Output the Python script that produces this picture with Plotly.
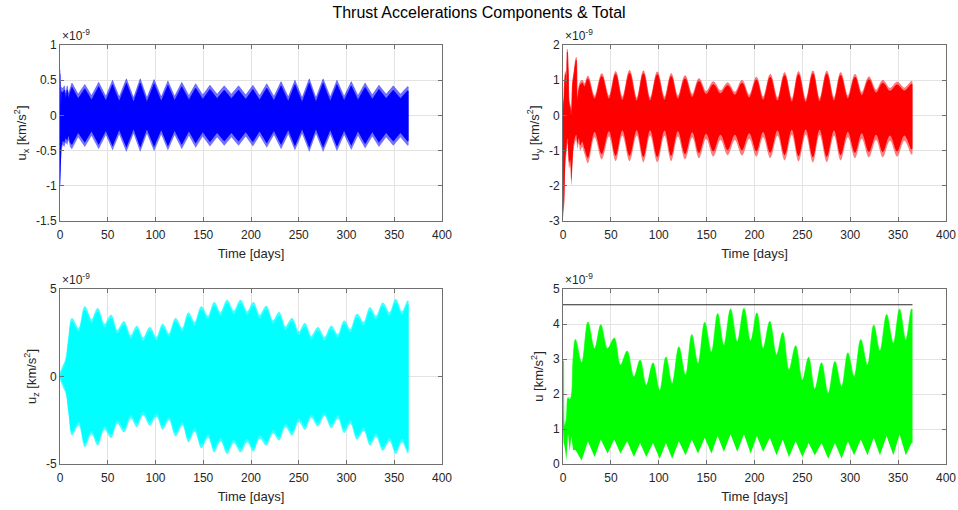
import plotly.graph_objects as go

# ---------------- text / ticks ----------------
TITLE = "Thrust Accelerations Components & Total"
X_TITLE = "Time [days]"
EXPONENT = "×10<sup>-9</sup>"
X_TICKS = [0, 50, 100, 150, 200, 250, 300, 350, 400]
UX_TICKS = [-1.5, -1, -0.5, 0, 0.5, 1]
UX_TICK_TEXT = ["-1.5", "-1", "-0.5", "0", "0.5", "1"]
UY_TICKS = [-3, -2, -1, 0, 1, 2]
UY_TICK_TEXT = ["-3", "-2", "-1", "0", "1", "2"]
UZ_TICKS = [-5, 0, 5]
UZ_TICK_TEXT = ["-5", "0", "5"]
U_TICKS = [0, 1, 2, 3, 4, 5]
U_TICK_TEXT = ["0", "1", "2", "3", "4", "5"]

# ---------------- data (units of 1e-9 km/s^2), envelope nodes -------
# u_x : start transient
ux_start_t = [0, 0.8, 1.5, 3, 4.5, 6, 7.5, 9, 10.5]
ux_start_hi = [0.65, 0.1, 0.4, 0.38, 0.42, 0.3, 0.42, 0.3, 0.38]
ux_start_lo = [-1.08, -0.75, -0.5, -0.42, -0.45, -0.38, -0.42, -0.35, -0.45]
# u_x : lobe peaks
ux_peak_t = [12.5, 26, 40.5, 55, 69.5, 84, 98.5, 113, 127.5, 142, 157, 172, 187, 202,
             216.5, 231.5, 246, 261, 275.5, 290, 305, 319.5, 334, 349, 364, 365]
ux_peak_hi = [0.46, 0.44, 0.47, 0.50, 0.52, 0.52, 0.51, 0.49, 0.47, 0.45, 0.43, 0.42, 0.42,
              0.43, 0.45, 0.48, 0.50, 0.52, 0.52, 0.50, 0.48, 0.46, 0.43, 0.42, 0.41, 0.40]
ux_peak_lo = [-0.48, -0.45, -0.48, -0.50, -0.52, -0.52, -0.51, -0.50, -0.48, -0.46, -0.44,
              -0.43, -0.43, -0.44, -0.46, -0.48, -0.50, -0.52, -0.52, -0.51, -0.49, -0.47,
              -0.45, -0.43, -0.43, -0.42]
# u_x : between lobes
ux_valley_t = [19, 33, 48, 62, 77, 91, 106, 120, 135, 149.5, 164.5, 179.5, 194.5, 209, 224,
               239, 253.5, 268, 283, 297.5, 312, 327, 341.5, 356.5]
ux_valley_hi = [0.30, 0.28, 0.27, 0.26, 0.25, 0.25, 0.26, 0.27, 0.28, 0.29, 0.30, 0.30, 0.29,
                0.28, 0.27, 0.26, 0.25, 0.25, 0.26, 0.27, 0.28, 0.29, 0.30, 0.30]
ux_valley_lo = [-0.31, -0.29, -0.28, -0.27, -0.26, -0.26, -0.27, -0.28, -0.29, -0.30, -0.31,
                -0.31, -0.30, -0.29, -0.28, -0.27, -0.26, -0.26, -0.27, -0.28, -0.29, -0.30,
                -0.31, -0.31]

# u_y
uy_start_t = [0, 0.6, 1.5, 2.5, 3.5, 4.5, 5.5, 6.5, 7.5, 8.7, 10, 11.5, 13.8, 15, 16.5, 18,
              20, 22.5]
uy_start_hi = [0.5, 0.2, 0.9, 1.25, 0.8, 1.88, 1.3, 0.4, 0.3, 0.1, 0.95, 1.25, 1.65, 0.5,
               0.8, 0.95, 1.0, 0.9]
uy_start_lo = [-0.3, -2.9, -2.4, -1.4, -1.1, -0.8, -1.2, -1.5, -1.4, -1.98, -1.4, -0.9, -0.7,
               -0.95, -0.8, -1.0, -0.9, -1.1]
uy_peak_t = [26, 40.5, 55, 69.5, 84, 98.5, 113, 127.5, 142, 157, 172, 187, 202, 216.5, 231.5,
             246, 261, 275.5, 290, 305, 319.5, 334, 349, 364, 365]
uy_peak_hi = [1.12, 1.19, 1.25, 1.28, 1.27, 1.24, 1.19, 1.13, 1.05, 0.96, 0.93, 1.00, 1.09,
              1.17, 1.22, 1.25, 1.27, 1.26, 1.22, 1.17, 1.10, 1.00, 0.95, 0.97, 0.95]
uy_peak_lo = [-1.36, -1.25, -1.30, -1.30, -1.33, -1.33, -1.30, -1.25, -1.22, -1.17, -1.13,
              -1.14, -1.17, -1.21, -1.28, -1.31, -1.34, -1.33, -1.28, -1.21, -1.19, -1.19,
              -1.17, -1.12, -1.10]
uy_valley_t = [33, 48, 62, 77, 91, 106, 120, 135, 149.5, 164.5, 179.5, 194.5, 209, 224, 239,
               253.5, 268, 283, 297.5, 312, 327, 341.5, 356.5]
uy_valley_hi = [0.55, 0.55, 0.52, 0.50, 0.50, 0.52, 0.55, 0.60, 0.68, 0.70, 0.66, 0.58, 0.52,
                0.50, 0.47, 0.46, 0.48, 0.50, 0.56, 0.65, 0.72, 0.77, 0.78]
uy_valley_lo = [-0.62, -0.60, -0.58, -0.57, -0.57, -0.58, -0.60, -0.63, -0.67, -0.70, -0.70,
                -0.66, -0.62, -0.58, -0.56, -0.55, -0.56, -0.58, -0.62, -0.66, -0.70, -0.72,
                -0.72]

# u_z
uz_start_t = [0, 3, 6, 9]
uz_start_hi = [0.2, 0.6, 1.0, 2.2]
uz_start_lo = [-0.2, -0.6, -1.0, -2.2]
uz_peak_t = [12.5, 26, 39.5, 53.5, 67, 80.5, 94, 107.5, 121, 134.5, 148, 161.5, 175, 189,
             202.5, 216, 229.5, 243, 256.5, 270, 284, 297.5, 311, 324.5, 338, 351.5, 364, 365]
uz_peak_hi = [3.33, 4.0, 3.9, 3.52, 3.14, 2.89, 2.81, 3.0, 3.33, 3.65, 4.0, 4.24, 4.37, 4.37,
              4.24, 4.03, 3.67, 3.33, 3.04, 2.81, 2.89, 3.19, 3.57, 3.95, 4.22, 4.41, 4.33, 4.3]
uz_peak_lo = [-3.37, -4.03, -3.94, -3.52, -3.19, -2.89, -2.81, -3.04, -3.42, -3.75, -4.09,
              -4.33, -4.43, -4.33, -4.28, -3.95, -3.65, -3.37, -3.04, -2.85, -2.95, -3.23,
              -3.61, -3.94, -4.24, -4.43, -4.37, -4.35]
uz_valley_t = [19.5, 33, 46.5, 60, 74, 87, 101, 114, 128, 141, 155, 168, 182, 196, 209, 223,
               236, 250, 263, 277, 291, 304, 318, 331, 345, 358]
uz_valley_hi = [2.75, 3.25, 3.0, 2.65, 2.35, 2.2, 2.25, 2.45, 2.75, 3.1, 3.45, 3.65, 3.75, 3.7,
                3.5, 3.2, 2.85, 2.55, 2.3, 2.25, 2.4, 2.7, 3.1, 3.45, 3.65, 3.7]
uz_valley_lo = [-2.8, -3.3, -3.05, -2.7, -2.4, -2.2, -2.3, -2.5, -2.8, -3.15, -3.5, -3.7, -3.8,
                -3.75, -3.55, -3.25, -2.9, -2.6, -2.35, -2.25, -2.4, -2.7, -3.1, -3.45, -3.7,
                -3.75]

# |u|
u_start_t = [0, 0.6, 1.7, 3.5, 5.2, 7, 8.7, 10.5]
u_start_hi = [2.0, 2.95, 1.1, 1.3, 1.9, 1.85, 1.95, 3.0]
u_start_lo = [1.0, 0.6, 0.5, 0.1, 0.9, 0.35, 0.8, 0.4]
u_peak_t = [13, 26, 39.5, 53.5, 67, 80.5, 94, 107.5, 121, 134.5, 148, 161.5, 175, 189, 202.5,
            216, 229.5, 243, 256.5, 270, 284, 297.5, 311, 324.5, 338, 351.5, 364, 365]
u_peak_hi = [3.56, 4.06, 3.98, 3.6, 3.23, 2.97, 2.89, 3.06, 3.35, 3.7, 4.05, 4.3, 4.43, 4.45,
             4.32, 4.08, 3.76, 3.38, 3.05, 2.89, 2.93, 3.18, 3.56, 3.97, 4.27, 4.43, 4.43, 4.4]
u_peak_lo = [0.4, 0.65, 0.7, 0.7, 0.65, 0.6, 0.6, 0.6, 0.65, 0.7, 0.75, 0.8, 0.85, 0.85, 0.8,
             0.75, 0.7, 0.65, 0.6, 0.6, 0.6, 0.65, 0.7, 0.75, 0.8, 0.85, 0.6, 0.6]
u_valley_t = [19.5, 33, 46.5, 60, 74, 87, 101, 114, 128, 141, 155, 168, 182, 196, 209, 223,
              236, 250, 263, 277, 291, 304, 318, 331, 345, 358]
u_valley_hi = [2.9, 3.3, 3.3, 2.83, 2.49, 2.25, 2.1, 2.3, 2.54, 2.87, 3.2, 3.4, 3.5, 3.52, 3.31,
               3.12, 2.69, 2.4, 2.14, 2.02, 2.21, 2.5, 2.83, 3.23, 3.45, 3.55]
u_valley_lo = [0.1, 0.2, 0.3, 0.3, 0.2, 0.2, 0.15, 0.15, 0.25, 0.3, 0.3, 0.35, 0.35, 0.3, 0.35,
               0.25, 0.2, 0.2, 0.25, 0.15, 0.15, 0.25, 0.25, 0.25, 0.25, 0.25]
u_limit_t = [0, 365]
u_limit = [4.55, 4.55]


def merge(*parts):
    rows = []
    for t, hi, lo in parts:
        assert len(t) == len(hi) == len(lo)
        rows += list(zip(t, hi, lo))
    rows.sort(key=lambda r: r[0])
    return [r[0] for r in rows], [r[1] for r in rows], [r[2] for r in rows]


ux = merge((ux_start_t, ux_start_hi, ux_start_lo), (ux_peak_t, ux_peak_hi, ux_peak_lo),
           (ux_valley_t, ux_valley_hi, ux_valley_lo))
uy = merge((uy_start_t, uy_start_hi, uy_start_lo), (uy_peak_t, uy_peak_hi, uy_peak_lo),
           (uy_valley_t, uy_valley_hi, uy_valley_lo))
uz = merge((uz_start_t, uz_start_hi, uz_start_lo), (uz_peak_t, uz_peak_hi, uz_peak_lo),
           (uz_valley_t, uz_valley_hi, uz_valley_lo))
uu = merge((u_start_t, u_start_hi, u_start_lo), (u_peak_t, u_peak_hi, u_peak_lo),
           (u_valley_t, u_valley_hi, u_valley_lo))

fig = go.Figure()


def band(t, hi, lo, color, xa, ya, shape_hi="linear", shape_lo="linear"):
    fig.add_trace(go.Scatter(x=t, y=lo, mode="lines", line=dict(width=0, shape=shape_lo),
                             hoverinfo="skip", showlegend=False, xaxis=xa, yaxis=ya))
    fig.add_trace(go.Scatter(x=t, y=hi, mode="lines", fill="tonexty", fillcolor=color,
                             line=dict(width=0.6, color=color, shape=shape_hi),
                             hoverinfo="skip", showlegend=False, xaxis=xa, yaxis=ya))


def shrink(vals, d, sign):
    return [v - sign * d for v in vals]


# u_x : light outer band + solid core
t, hi, lo = ux
band(t, hi, lo, "rgba(0,0,255,0.55)", "x", "y")
band(t, shrink(hi, 0.06, 1), shrink(lo, 0.06, -1), "rgb(0,0,255)", "x", "y")
# u_y
t, hi, lo = uy
band(t, hi, lo, "rgba(255,0,0,0.5)", "x2", "y2", "spline", "spline")
band(t, shrink(hi, 0.08, 1), shrink(lo, 0.15, -1), "rgb(255,0,0)", "x2", "y2", "spline", "spline")
# u_z
t, hi, lo = uz
band(t, hi, lo, "rgba(0,255,255,0.75)", "x3", "y3", "spline", "spline")
band(t, shrink(hi, 0.2, 1), shrink(lo, 0.2, -1), "rgb(0,255,255)", "x3", "y3", "spline", "spline")
# |u|
t, hi, lo = uu
band(t, hi, lo, "rgb(0,255,0)", "x4", "y4", "spline", "linear")
fig.add_trace(go.Scatter(x=u_limit_t, y=u_limit, mode="lines",
                         line=dict(color="#262626", width=1), hoverinfo="skip",
                         showlegend=False, xaxis="x4", yaxis="y4"))

FONT = "Liberation Sans, Arial, Helvetica, sans-serif"
AX_COL = "#262626"
LINE_COL = "#6f6f6f"
GRID_COL = "#e3e3e3"

W, H = 958, 510


def px_x(p):
    return p / W


def px_y(p):
    return 1 - p / H


XD_L = [px_x(60), px_x(442)]
XD_R = [px_x(563), px_x(946)]
YD_T = [px_y(221), px_y(45)]
YD_B = [px_y(464), px_y(289)]


def xax(domain, anchor):
    return dict(domain=domain, anchor=anchor, range=[0, 400], tickvals=X_TICKS,
                ticktext=[str(v) for v in X_TICKS], showgrid=True, gridcolor=GRID_COL,
                gridwidth=1, zeroline=False, showline=True, linecolor=LINE_COL, linewidth=1,
                mirror="ticks", ticks="inside", ticklen=4, tickcolor=LINE_COL,
                automargin=False, ticklabelstandoff=3,
                tickfont=dict(family=FONT, size=12, color=AX_COL),
                title=dict(text=X_TITLE, font=dict(family=FONT, size=13, color=AX_COL),
                           standoff=7))


def yax(domain, anchor, rng, tv, tt, title):
    return dict(domain=domain, anchor=anchor, range=rng, tickvals=tv, ticktext=tt,
                showgrid=True, gridcolor=GRID_COL, gridwidth=1, zeroline=False,
                showline=True, linecolor=LINE_COL, linewidth=1, mirror="ticks",
                ticks="inside", ticklen=4, tickcolor=LINE_COL, automargin=False,
                tickfont=dict(family=FONT, size=12, color=AX_COL),
                title=dict(text=title, font=dict(family=FONT, size=13, color=AX_COL),
                           standoff=6))


fig.update_layout(
    width=W, height=H, margin=dict(l=0, r=0, t=0, b=0, pad=0, autoexpand=False),
    paper_bgcolor="white", plot_bgcolor="white", showlegend=False,
    font=dict(family=FONT, color=AX_COL),
    title=dict(text=TITLE, x=px_x(479), xanchor="center", y=px_y(12), yanchor="middle",
               automargin=False, font=dict(family=FONT, size=16, color="black")),
    xaxis=xax(XD_L, "y"),
    yaxis=yax(YD_T, "x", [-1.5, 1], UX_TICKS, UX_TICK_TEXT,
              "u<sub>x</sub> [km/s<sup>2</sup>]"),
    xaxis2=xax(XD_R, "y2"),
    yaxis2=yax(YD_T, "x2", [-3, 2], UY_TICKS, UY_TICK_TEXT,
               "u<sub>y</sub> [km/s<sup>2</sup>]"),
    xaxis3=xax(XD_L, "y3"),
    yaxis3=yax(YD_B, "x3", [-5, 5], UZ_TICKS, UZ_TICK_TEXT,
               "u<sub>z</sub> [km/s<sup>2</sup>]"),
    xaxis4=xax(XD_R, "y4"),
    yaxis4=yax(YD_B, "x4", [0, 5], U_TICKS, U_TICK_TEXT, "u [km/s<sup>2</sup>]"),
)

for xd, yd in [(XD_L, YD_T), (XD_R, YD_T), (XD_L, YD_B), (XD_R, YD_B)]:
    fig.add_annotation(text=EXPONENT, xref="paper", yref="paper", x=xd[0], y=yd[1],
                       xanchor="left", yanchor="bottom", showarrow=False,
                       font=dict(family=FONT, size=12, color=AX_COL), yshift=0)

# remove the browser's default 8px body margin so the figure sits at the window origin
fig.write_html("out.html", config={"displayModeBar": False},
               post_script="document.body.style.margin='0';document.body.style.overflow='hidden';")
